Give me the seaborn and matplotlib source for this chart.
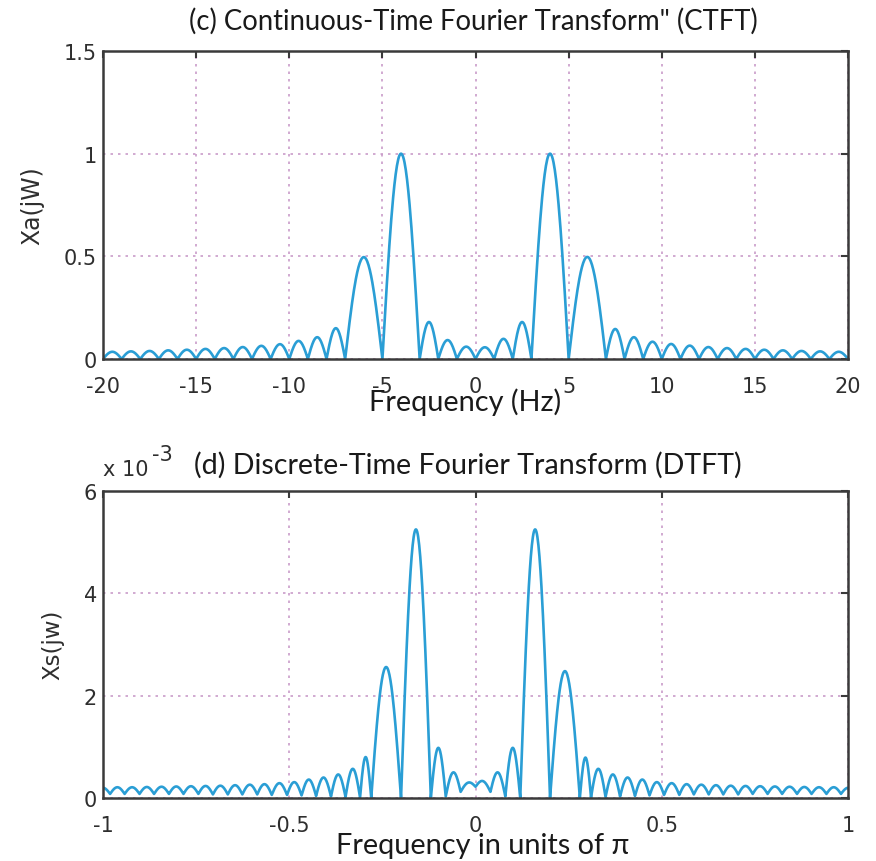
import numpy as np
import pandas as pd
import matplotlib
matplotlib.use("Agg")
import matplotlib.pyplot as plt
import seaborn as sns

# ---------------- data ----------------
# (c) CTFT: lobe boundaries (Hz) and lobe peak magnitudes
ctft_edges = [-20, -19, -18, -17, -16, -15, -14, -13, -12, -11, -10, -9, -8, -7,
              -5, -3, -2, -1, 0, 1, 2, 3, 5, 7, 8, 9, 10, 11, 12, 13, 14, 15,
              16, 17, 18, 19, 20]
ctft_peaks = [0.035, 0.037, 0.039, 0.042, 0.045, 0.049, 0.053, 0.058, 0.064, 0.072,
              0.088, 0.106, 0.150, 0.496, 1.000, 0.180, 0.092, 0.060,
              0.057, 0.098, 0.180, 1.000, 0.497, 0.146, 0.106, 0.084, 0.073, 0.065,
              0.058, 0.053, 0.049, 0.045, 0.042, 0.039, 0.037, 0.035]
ctft_mins = [0.0] * len(ctft_edges)

# (d) DTFT: lobe boundaries (units of pi), values at boundaries and lobe peaks (x 1e-3)
dtft_edges = [-1.02, -0.981, -0.942, -0.902, -0.863, -0.823, -0.784, -0.744, -0.705,
              -0.665, -0.626, -0.586, -0.547, -0.506, -0.467, -0.428, -0.388, -0.349,
              -0.310, -0.280, -0.200, -0.120, -0.080, -0.040, 0.0,
              0.040, 0.080, 0.120, 0.200, 0.280, 0.310, 0.349, 0.388, 0.428, 0.467,
              0.506, 0.547, 0.586, 0.626, 0.665, 0.705, 0.744, 0.784, 0.823, 0.863,
              0.902, 0.942, 0.981, 1.02]
dtft_mins = [0.08, 0.08, 0.08, 0.08, 0.08, 0.08, 0.08, 0.08, 0.07, 0.07, 0.07, 0.07,
             0.06, 0.06, 0.05, 0.04, 0.03, 0.02, 0.01, 0.0, 0.0, 0.0, 0.03, 0.12,
             0.22,
             0.12, 0.03, 0.0, 0.0, 0.0, 0.01, 0.02, 0.03, 0.04, 0.05, 0.06, 0.06,
             0.07, 0.07, 0.07, 0.07, 0.08, 0.08, 0.08, 0.08, 0.08, 0.08, 0.08, 0.08]
dtft_peaks = [0.20, 0.21, 0.21, 0.215, 0.22, 0.225, 0.23, 0.235, 0.24, 0.25, 0.26,
              0.27, 0.29, 0.31, 0.36, 0.40, 0.46, 0.57, 0.80, 2.56, 5.25, 0.98,
              0.50, 0.30,
              0.33, 0.50, 0.98, 5.25, 2.48, 0.79, 0.57, 0.46, 0.40, 0.36, 0.31, 0.29,
              0.27, 0.26, 0.25, 0.24, 0.235, 0.23, 0.225, 0.22, 0.215, 0.21, 0.21, 0.20]

ctft_xticks = [-20, -15, -10, -5, 0, 5, 10, 15, 20]
ctft_yticks = [0, 0.5, 1, 1.5]
ctft_yticklabels = ["0", "0.5", "1", "1.5"]
dtft_xticks = [-1, -0.5, 0, 0.5, 1]
dtft_xticklabels = ["-1", "-0.5", "0", "0.5", "1"]
dtft_yticks = [0, 2, 4, 6]


def lobe_frame(edges, peaks, mins, n=60):
    xs, ys = [], []
    for i in range(len(peaks)):
        x0, x1 = edges[i], edges[i + 1]
        m0, m1 = mins[i], mins[i + 1]
        t = np.linspace(0, 1, n)
        base = m0 * (1 - t) + m1 * t
        amp = peaks[i] - 0.5 * (m0 + m1)
        xs.append(x0 + (x1 - x0) * t)
        ys.append(base + amp * np.sin(np.pi * t))
    return pd.DataFrame({"x": np.concatenate(xs), "y": np.concatenate(ys)})


sns.set_style("white")
plt.rcParams["font.family"] = ["DejaVu Sans"]

LINE = "#2a9ed5"
GRID = "#c99cc9"
SPINE = "#3a3a3a"
TXT = "#2e2e2e"

fig = plt.figure(figsize=(8.76, 8.62), dpi=100)
ax1 = fig.add_axes([0.1176, 0.5824, 0.8505, 0.3573])
ax2 = fig.add_axes([0.1176, 0.0731, 0.8505, 0.3561])

df1 = lobe_frame(ctft_edges, ctft_peaks, ctft_mins)
df2 = lobe_frame(dtft_edges, dtft_peaks, dtft_mins)

sns.lineplot(data=df1, x="x", y="y", ax=ax1, color=LINE, linewidth=1.9,
             estimator=None, sort=False)
sns.lineplot(data=df2, x="x", y="y", ax=ax2, color=LINE, linewidth=1.9,
             estimator=None, sort=False)

for ax in (ax1, ax2):
    ax.set_xlabel("")
    ax.set_ylabel("")
    ax.grid(True, color=GRID, linestyle=(0, (1.5, 3.0)), linewidth=1.2)
    ax.set_axisbelow(True)
    for s in ax.spines.values():
        s.set_visible(True)
        s.set_color(SPINE)
        s.set_linewidth(1.8)
    ax.tick_params(direction="in", length=5, width=1.5, color=SPINE,
                   top=True, right=True, labelsize=15, labelcolor=TXT)
    ax.tick_params(axis="x", pad=12.5)
    ax.tick_params(axis="y", pad=4.5)

ax1.set_xlim(-20, 20)
ax1.set_ylim(0, 1.5)
ax1.set_xticks(ctft_xticks)
ax1.set_xticklabels([str(v) for v in ctft_xticks])
ax1.set_yticks(ctft_yticks)
ax1.set_yticklabels(ctft_yticklabels)

ax2.set_xlim(-1, 1)
ax2.set_ylim(0, 6)
ax2.set_xticks(dtft_xticks)
ax2.set_xticklabels(dtft_xticklabels)
ax2.set_yticks(dtft_yticks)
ax2.set_yticklabels([str(v) for v in dtft_yticks])

TFONT = ["Lato", "DejaVu Sans"]
fig.text(0.540, 0.9748, "(c) Continuous-Time Fourier Transform\" (CTFT)",
         ha="center", va="center", fontsize=19.8, family=TFONT, color="#1a1a1a")
fig.text(0.531, 0.5336, "Frequency (Hz)", ha="center", va="center",
         fontsize=20.8, family=TFONT, color="#1a1a1a")
fig.text(0.0371, 0.762, "Xa(jW)", ha="center", va="center", rotation=90,
         fontsize=17, color=TXT)

fig.text(0.534, 0.4606, "(d) Discrete-Time Fourier Transform (DTFT)",
         ha="center", va="center", fontsize=20.6, family=TFONT, color="#1a1a1a")
fig.text(0.551, 0.0186, "Frequency in units of \u03c0", ha="center", va="center",
         fontsize=20.8, family=TFONT, color="#1a1a1a")
fig.text(0.0605, 0.2517, "Xs(jw)", ha="center", va="center", rotation=90,
         fontsize=16.5, color=TXT)
fig.text(0.1176, 0.4548, "x 10", ha="left", va="center", fontsize=15, color=TXT)
fig.text(0.1735, 0.472, "-3", ha="left", va="center", fontsize=15, color=TXT)

fig.savefig("out.png", dpi=100)
